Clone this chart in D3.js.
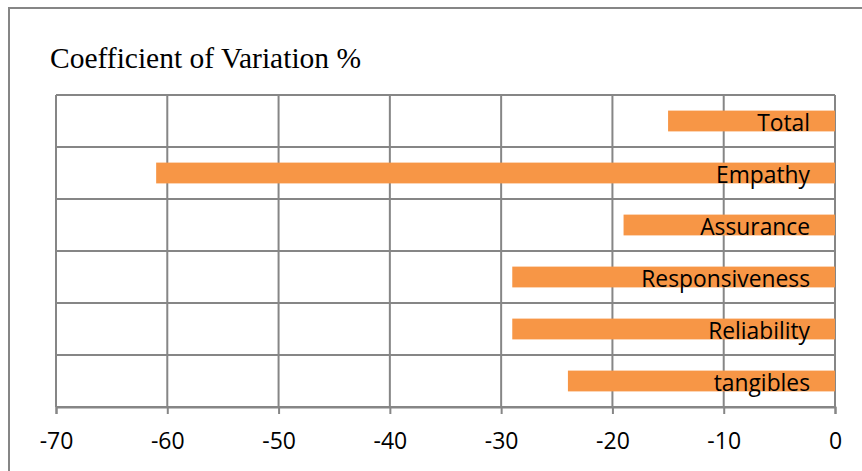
<!DOCTYPE html>
<html>
<head>
<meta charset="utf-8">
<script src="https://cdn.jsdelivr.net/npm/d3@7"></script>
<style>
  html, body { margin: 0; padding: 0; background: #fff; }
  svg { display: block; }
</style>
</head>
<body>
<svg id="chart" width="862" height="471"></svg>
<script>
// Dimensions of service quality, top to bottom
const categories = ["Total", "Empathy", "Assurance", "Responsiveness", "Reliability", "tangibles"];
// Coefficient of variation (%) per dimension
const values = [-15, -61, -19, -29, -29, -24];
// Value axis ticks
const tickValues = [-70, -60, -50, -40, -30, -20, -10, 0];

const svg = d3.select("#chart");
const gridColor = "#868686";
const barColor = "#F79646";

const plot = { left: 56, right: 835, top: 95, bottom: 407 };

const x = d3.scaleLinear().domain([-70, 0]).range([plot.left, plot.right]);
const y = d3.scaleBand().domain(categories).range([plot.top, plot.bottom]).paddingInner(0.6).paddingOuter(0.3);

// Chart frame
svg.append("path")
  .attr("d", "M9,475 L9,8 L866,8")
  .attr("fill", "none")
  .attr("stroke", gridColor)
  .attr("stroke-width", 2);

// Title
svg.append("text")
  .attr("x", 50).attr("y", 68)
  .attr("font-family", "'Liberation Serif', 'Times New Roman', serif")
  .attr("font-size", 29.5)
  .attr("fill", "#000")
  .text("Coefficient of Variation %");

// Vertical gridlines
svg.append("g").selectAll("line").data(tickValues).join("line")
  .attr("x1", d => x(d)).attr("x2", d => x(d))
  .attr("y1", plot.top).attr("y2", plot.bottom)
  .attr("stroke", gridColor).attr("stroke-width", 2);

// Horizontal gridlines at category boundaries
const boundaries = d3.range(categories.length + 1).map(i => plot.top + i * (plot.bottom - plot.top) / categories.length);
svg.append("g").selectAll("line").data(boundaries).join("line")
  .attr("x1", plot.left).attr("x2", plot.right)
  .attr("y1", d => d).attr("y2", d => d)
  .attr("stroke", gridColor).attr("stroke-width", 2);

// Bars
svg.append("g").selectAll("rect").data(categories).join("rect")
  .attr("x", (d, i) => x(values[i]))
  .attr("y", d => y(d))
  .attr("width", (d, i) => x(0) - x(values[i]))
  .attr("height", y.bandwidth())
  .attr("fill", barColor);

// Category labels inside the bars
svg.append("g").selectAll("text").data(categories).join("text")
  .attr("x", x(0) - 25)
  .attr("y", d => y(d) + y.bandwidth() / 2 + 1)
  .attr("text-anchor", "end")
  .attr("dominant-baseline", "central")
  .attr("font-family", "'Open Sans', sans-serif")
  .attr("font-size", 22.8)
  .attr("fill", "#000")
  .text(d => d);

// Bottom axis
const axis = svg.append("g")
  .attr("transform", `translate(0,${plot.bottom})`)
  .call(d3.axisBottom(x).tickValues(tickValues).tickFormat(d3.format("d")).tickSize(7).tickPadding(19));
axis.select(".domain").attr("stroke", gridColor).attr("stroke-width", 2);
axis.selectAll(".tick line").attr("stroke", gridColor).attr("stroke-width", 2);
axis.selectAll(".tick text")
  .attr("font-family", "'Open Sans', sans-serif")
  .attr("font-size", 23)
  .attr("fill", "#000")
  .text(d => d === 0 ? "0" : "-" + Math.abs(d));
</script>
</body>
</html>
